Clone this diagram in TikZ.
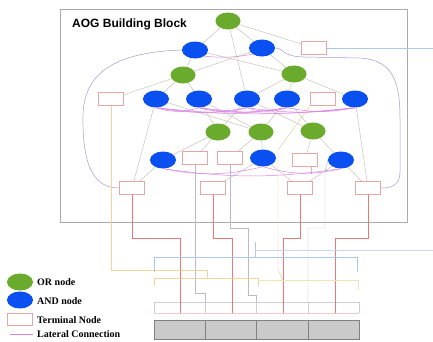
\documentclass[tikz,border=0pt]{standalone}
\usepackage{fontspec}
\setmainfont{Liberation Serif}
\setsansfont{Liberation Sans}
\usetikzlibrary{shapes}
\usetikzlibrary{arrows}
\usetikzlibrary{calc}
\definecolor{aog green}{HTML}{6AAA2C}
\definecolor{aog blue}{HTML}{0A50F0}
\definecolor{term red}{HTML}{E8A6A0}
\definecolor{link gray}{HTML}{C4BCB4}
\definecolor{frame gray}{HTML}{ABABAB}
\definecolor{wire red}{HTML}{E87878}
\definecolor{wire gray}{HTML}{BDB6CC}
\definecolor{wire yellow}{HTML}{F2D49A}
\definecolor{wire blue}{HTML}{AEC8EA}
\definecolor{lateral pink}{HTML}{DA84E2}
\definecolor{long purple}{HTML}{A29AD4}
\definecolor{cell gray}{HTML}{CACACA}

\tikzset{
  ornode/.style = {ellipse, fill = aog green, minimum width = 25pt, minimum height = 17pt, inner sep = 0pt},
  andnode/.style = {ellipse, fill = aog blue, minimum width = 26pt, minimum height = 17pt, inner sep = 0pt},
  termnode/.style = {rectangle, draw = term red, fill = white, line width = 0.5pt,
    minimum width = 25pt, minimum height = 13pt, inner sep = 0pt},
  link/.style = {link gray, line width = 0.45pt},
  lateral/.style = {lateral pink, line width = 0.5pt},
  cell/.style = {rectangle, draw = gray, fill = cell gray, line width = 0.4pt,
    minimum width = 51.25pt, minimum height = 19pt, inner sep = 0pt},
  legendtext/.style = {anchor = west, font = \bfseries\fontsize{10}{11}\selectfont, inner sep = 0pt}
}

\begin{document}
\begin{tikzpicture}[x = 1pt, y = -1pt]
  \useasboundingbox (0, 0) rectangle (433, 341);

  \draw[frame gray, line width = 0.6pt] (60, 9) rectangle (407, 222);
  \node[anchor = west, inner sep = 0pt, font = \sffamily\bfseries\fontsize{12}{14}\selectfont] (title) at (72, 24) {AOG Building Block};

  % layers of the block, top to bottom
  \node[ornode] (g0) at (228, 21) {};
  \node[andnode] (b1) at (195, 50) {};
  \node[andnode] (b2) at (262, 48) {};
  \node[termnode] (t0) at (314, 48) {};

  \node[ornode] (g1) at (183, 75) {};
  \node[ornode] (g2) at (294, 74) {};

  \node[termnode] (t1) at (111, 99) {};
  \node[andnode] (b3) at (156, 99) {};
  \node[andnode] (b4) at (199, 99) {};
  \node[andnode] (b5) at (247, 99) {};
  \node[andnode] (b6) at (287, 99) {};
  \node[termnode] (t2) at (323, 99) {};
  \node[andnode] (b7) at (355, 99) {};

  \node[ornode] (g3) at (218, 132) {};
  \node[ornode] (g4) at (261, 132) {};
  \node[ornode] (g5) at (313, 131) {};

  \node[andnode] (b8) at (163, 160) {};
  \node[termnode] (t3) at (195, 158) {};
  \node[termnode] (t4) at (230, 158) {};
  \node[andnode] (b9) at (263, 158) {};
  \node[termnode] (t5) at (305, 160) {};
  \node[andnode] (b10) at (341, 160) {};

  \node[termnode] (t6) at (132, 188) {};
  \node[termnode] (t7) at (213, 188) {};
  \node[termnode] (t8) at (300, 188) {};
  \node[termnode] (t9) at (368, 188) {};

  % and-or links
  \foreach \a/\b in {g0/b1, g0/b2, g0/t0, g0/b5, b1/g1, b1/g2, b2/g1, b2/g2,
    g1/t1, g1/b3, g1/b4, g2/b5, g2/b6, g2/b7,
    b3/t6, b3/g4, b4/g3, b4/g4, b5/g3, b5/g5, b6/g4, b6/g5, b7/t9,
    g3/b8, g3/t3, g4/t4, g4/b9, g5/t5, g5/b10,
    b8/t6, b9/t7, b9/t8, b10/t8, b10/t9} {
    \draw[link] (\a) -- (\b);
  }
  \draw[link] ($(t5.south) + (6, 0)$) -- ++(0, 7);

  % lateral connections
  \draw[lateral] (b1.south east) to[bend right = 8] (b2.south west);
  \foreach \a/\b/\s in {b3/b4/17, b3/b5/10, b3/b6/8, b3/b7/6, b4/b5/15, b4/b6/10,
    b4/b7/7, b5/b6/18, b5/b7/8, b6/b7/11} {
    \draw[lateral] (\a.south) to[bend right = \s] (\b.south);
  }
  \foreach \a/\b/\s in {b8/b9/12, b8/b10/8, b9/b10/14} {
    \draw[lateral] (\a.south) to[bend right = \s] (\b.south);
  }

  % long links round the block
  \draw[long purple, line width = 0.5pt] (b1.west) .. controls (120, 52) and (84, 70) .. (83, 115)
    .. controls (82, 170) and (96, 188) .. (t6.west);
  \draw[long purple, line width = 0.5pt] (b2.east) .. controls (284, 48) and (282, 57) .. (305, 57)
    -- (360, 58) .. controls (395, 60) and (400, 85) .. (400, 120)
    -- (400, 172) .. controls (400, 185) and (392, 188) .. (t9.east);

  % outputs of the block
  \coordinate (out0) at (433, 48);
  \coordinate (out1) at (433, 250);
  \draw[wire blue, line width = 0.4pt] (t0.east) -- (out0);

  \foreach \i in {0, 1, 2, 3} {\node[cell] (cell\i) at (179.6 + \i*51.25, 329.5) {};}
  \draw[term red!60, line width = 0.4pt] (154, 313) -- (359, 313);
  \draw[wire gray!70, line width = 0.4pt] (154, 302) -- (359, 302);
  \foreach \x in {154, 205, 256.5, 308, 359} {\draw[wire gray!70, line width = 0.4pt] (\x, 302) -- (\x, 313);}

  % wires down to the cells
  \foreach \t/\x in {t6/180, t7/232, t8/283, t9/335} {
    \draw[wire red, line width = 0.5pt] (\t.south) |- (\x, 238) -- (\x, 313);
  }
  \draw[wire gray, line width = 0.45pt] (t3.south) -- (195, 293) -- (205, 293) -- (205, 302);
  \draw[wire gray, line width = 0.45pt] (t4.south) -- (230, 228) -- (248, 228) -- (248, 295) -- (256.5, 295) -- (256.5, 302);
  \draw[wire gray, line width = 0.45pt] (b10.west) -- (325, 172) -- (325, 228) -- (308, 228) -- (308, 302);
  \draw[wire yellow, line width = 0.5pt] (t1.south) -- (111, 270) -- (207, 270) -- (207, 278);
  \draw[wire yellow, line width = 0.7pt] (154, 286) -- (154, 278) -- (258, 278) -- (258, 286);
  \draw[wire yellow!70, line width = 0.4pt] (258, 280) -- (358, 280) -- (358, 290);
  \draw[wire yellow!80!brown, line width = 0.4pt] (t2.south west) -- (278, 150) -- (278, 270) -- (283, 280);
  \draw[wire blue, line width = 0.5pt] (154, 272) -- (154, 257) -- (357, 257) -- (357, 272);
  \draw[wire blue, line width = 0.5pt] (255, 242) -- (255, 257);
  \draw[wire blue!70, line width = 0.4pt] (255, 250) -- (out1);

  % legend
  \node[ornode, minimum width = 26pt] (keyor) at (20, 282) {};
  \node[andnode] (keyand) at (20, 300) {};
  \node[termnode, minimum height = 12pt] (keyterm) at (20, 319) {};
  \coordinate (keylat) at (10, 334);
  \draw[lateral] (keylat) -- ++(23, 0);
  \node[legendtext] (keyortext) at (37, 282) {OR node};
  \node[legendtext] (keyandtext) at (37, 301) {AND node};
  \node[legendtext] (keytermtext) at (37, 320) {Terminal Node};
  \node[legendtext] (keylattext) at (37, 334) {Lateral Connection};
\end{tikzpicture}
\end{document}
